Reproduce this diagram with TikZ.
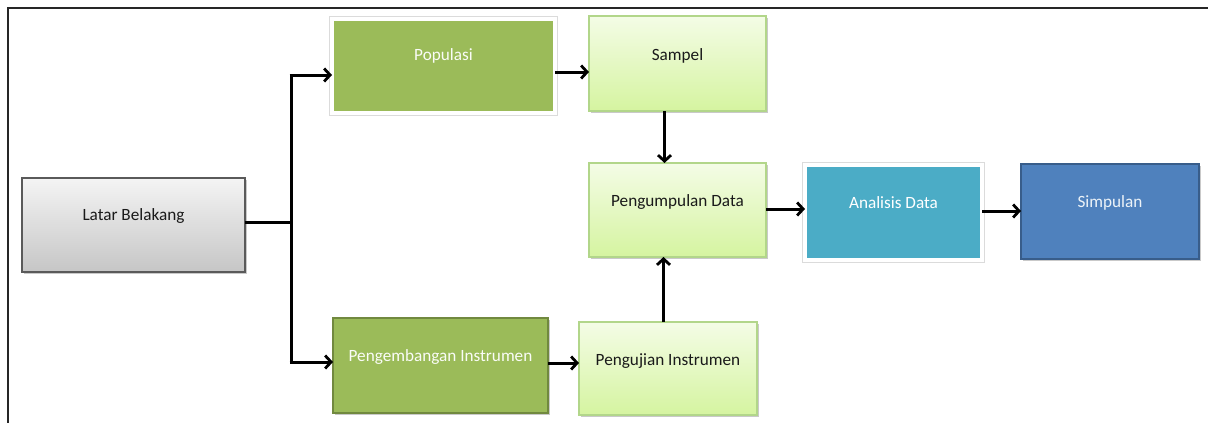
\documentclass[tikz,border=0pt]{standalone}
\usepackage{fontspec}
\setmainfont{Carlito}
\usetikzlibrary{arrows.meta,shadows,calc}
\definecolor{grayTop}{HTML}{F4F4F4}
\definecolor{grayBot}{HTML}{C6C6C6}
\definecolor{grayLine}{HTML}{5A5A5A}
\definecolor{lgTop}{HTML}{F4FCE6}
\definecolor{lgBot}{HTML}{D5F4A0}
\definecolor{lgLine}{HTML}{B2D68A}
\definecolor{oliveFill}{HTML}{9BBB59}
\definecolor{oliveLine}{HTML}{71893F}
\definecolor{aquaFill}{HTML}{4BACC6}
\definecolor{blueFill}{HTML}{4F81BD}
\definecolor{blueLine}{HTML}{385D8A}
\definecolor{txtDark}{HTML}{1A1A1A}
\begin{document}
\begin{tikzpicture}[x=1pt,y=-1pt,
  boxbase/.style={rectangle,inner sep=0pt,outer sep=0pt},
  shad/.style={drop shadow={shadow xshift=1.5pt,shadow yshift=-1.8pt,opacity=.3,fill=black!70}},
  graybox/.style={boxbase,shad,top color=grayTop,bottom color=grayBot,draw=grayLine,line width=1.2pt},
  lgbox/.style={boxbase,shad,top color=lgTop,bottom color=lgBot,draw=lgLine,line width=1.2pt},
  whiteedge/.style={preaction={draw=black!14,line width=5.6pt}},
  olivewhite/.style={boxbase,shad,whiteedge,fill=oliveFill,draw=white,line width=4pt},
  olivebox/.style={boxbase,shad,fill=oliveFill,draw=oliveLine,line width=2pt},
  aquawhite/.style={boxbase,shad,whiteedge,fill=aquaFill,draw=white,line width=4pt},
  bluebox/.style={boxbase,shad,fill=blueFill,draw=blueLine,line width=2pt},
  txt/.style={inner sep=0pt,font=\fontsize{17.2}{20}\selectfont,text=txtDark},
  wtxt/.style={txt,text=white!95!oliveFill},
  arr/.style={line width=3pt,-{Straight Barb[length=6pt,width=13pt,line width=2.8pt]}},
  ln/.style={line width=3pt}
]
\useasboundingbox (0,0) rectangle (1208,423);
\draw[line width=1.6pt,black!85] (8,423) -- (8,8) -- (1208,8);

% boxes
\node[graybox,minimum width=223pt,minimum height=94pt] (lb) at (133.5,225) {};
\node[olivewhite,minimum width=223pt,minimum height=94pt] (pop) at (443.5,66) {};
\node[lgbox,minimum width=177pt,minimum height=95pt] (samp) at (677.5,63.5) {};
\node[lgbox,minimum width=177pt,minimum height=94pt] (pd) at (677.5,210) {};
\node[aquawhite,minimum width=177pt,minimum height=95pt] (ad) at (893.5,212.5) {};
\node[bluebox,minimum width=178pt,minimum height=95pt] (simp) at (1110,211.5) {};
\node[olivebox,minimum width=215pt,minimum height=95pt] (pi) at (440.5,365.5) {};
\node[lgbox,minimum width=178pt,minimum height=93pt] (pu) at (668,368.5) {};

% texts
\node[txt] (lbT) at ([yshift=9pt]lb.center) {Latar Belakang};
\node[wtxt] (popT) at ([yshift=10pt]pop.center) {Populasi};
\node[txt] (sampT) at ([yshift=7.5pt]samp.center) {Sampel};
\node[txt] (pdT) at ([yshift=8pt]pd.center) {Pengumpulan Data};
\node[wtxt,text=white] (adT) at ([yshift=9.5pt]ad.center) {Analisis Data};
\node[wtxt,text=white!90!blueFill] (simpT) at ([yshift=8.5pt]simp.center) {Simpulan};
\node[wtxt] (piT) at ([yshift=8.5pt]pi.center) {Pengembangan Instrumen};
\node[txt] (puT) at ([yshift=7.5pt]pu.center) {Pengujian Instrumen};

% connectors
\coordinate (j) at (291,222);
\coordinate (jt) at (291,75);
\coordinate (jb) at (291,362);
\draw[ln] ([yshift=3pt]lb.east) -- (j);
\draw[ln] ([yshift=-1.5pt]j) -- (jt);
\draw[ln] ([yshift=1.5pt]j) -- (jb);
\draw[arr] ([xshift=-1.5pt]jt) -- (jt -| pop.west);
\draw[arr] ([xshift=-1.5pt]jb) -- (jb -| pi.west);
\draw[arr] ([yshift=-6pt]pop.east) -- ([yshift=-6pt]pop.east -| samp.west);
\draw[arr] ([xshift=-13pt]samp.south) -- ([xshift=-13pt]pd.north);
\draw[arr] ([xshift=-4.5pt]pu.north) -- ([xshift=-4.5pt]pu.north |- pd.south);
\draw[arr] ([yshift=1pt]pd.east) -- ([yshift=1pt]pd.east -| ad.west);
\draw[arr] ([yshift=1.5pt]ad.east) -- ([yshift=1.5pt]ad.east -| simp.west);
\draw[arr] ([yshift=2.5pt]pi.east) -- ([yshift=2.5pt]pi.east -| pu.west);
\end{tikzpicture}
\end{document}
